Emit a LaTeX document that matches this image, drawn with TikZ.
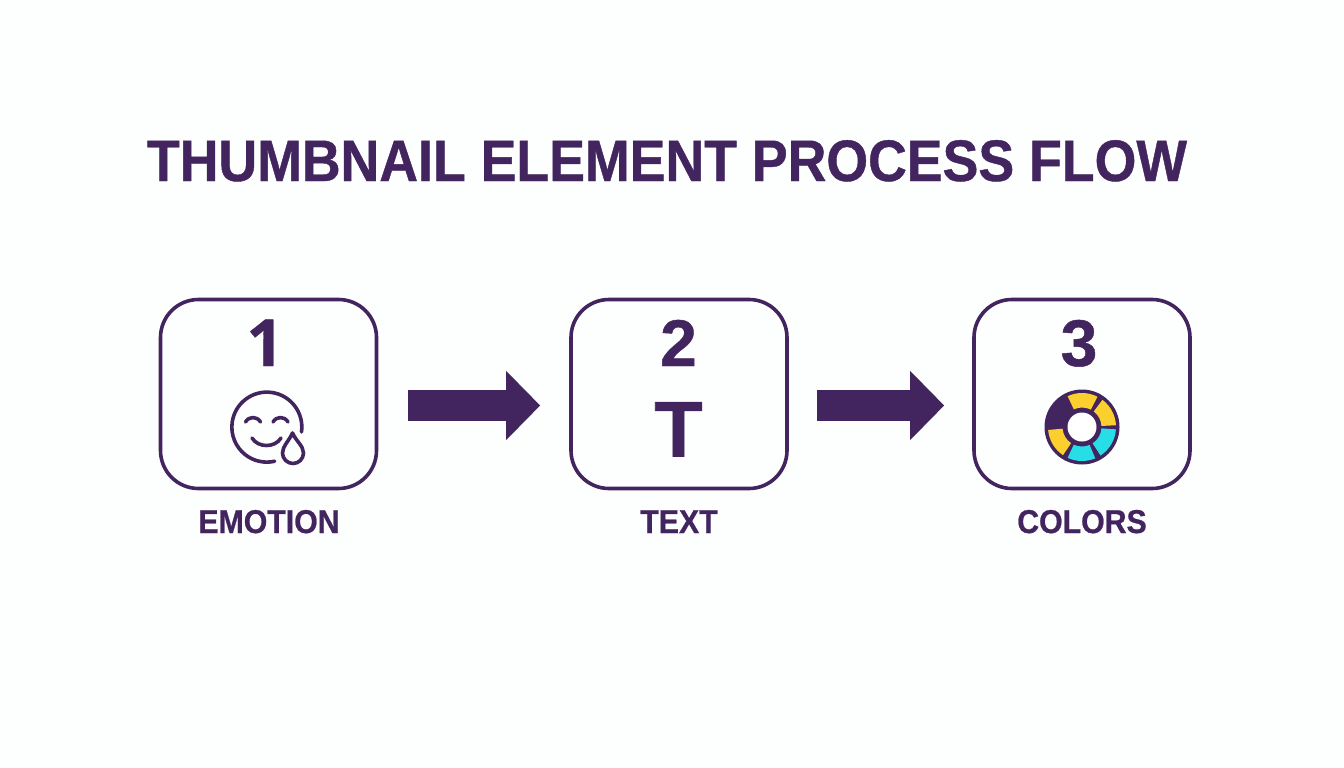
\documentclass[tikz,border=0pt]{standalone}
\usepackage{fontspec}
\setmainfont{Liberation Sans}
\newfontfamily\titlefont[FakeStretch=0.917,BoldFeatures={FakeBold=0.7}]{Liberation Sans}
\newfontfamily\heavyfont[BoldFeatures={FakeBold=0.7}]{Liberation Sans}
\newfontfamily\onefont[BoldFeatures={FakeBold=0.5}]{Open Sans}
\usetikzlibrary{arrows.meta}
\definecolor{ink}{HTML}{42245F}
\definecolor{wheelY}{HTML}{FBD02E}
\definecolor{wheelC}{HTML}{27DDE6}
\definecolor{paper}{HTML}{FDFEFE}
\tikzset{
  x=1pt,y=1pt,
  stagebox/.style={draw=ink,line width=3.6pt,rounded corners=38pt,minimum width=216pt,minimum height=189pt,inner sep=0pt},
  flow/.style={draw=ink,line width=31pt,-{Triangle[length=34pt,width=67pt,fill=ink,color=ink]}},
  tlabel/.style={text=ink,font=\titlefont\bfseries\fontsize{33}{35}\selectfont,inner sep=0pt,anchor=base},
  numeral/.style={text=ink,font=\heavyfont\bfseries\fontsize{66}{68}\selectfont,inner sep=0pt,anchor=base},
  iconline/.style={draw=ink,line width=3.6pt,line cap=round,line join=round},
}
\begin{document}
\begin{tikzpicture}[yscale=-1]
\useasboundingbox (0,0) rectangle (1344,768);
\fill[paper] (0,0) rectangle (1344,768);
\node[text=ink,font=\titlefont\bfseries\fontsize{58.5}{60}\selectfont,inner sep=0pt,anchor=base] (title) at (667,181) {THUMBNAIL ELEMENT PROCESS FLOW};
\node[stagebox] (b1) at (268.5,394) {};
\node[stagebox] (b2) at (679,394) {};
\node[stagebox] (b3) at (1082,394) {};
\node[numeral,font=\onefont\bfseries\fontsize{65}{68}\selectfont] (n1) at (265,366) {1};
\node[numeral] (n2) at (678.5,366) {2};
\node[numeral] (n3) at (1079,366) {3};
\node[tlabel] (l1) at (269,533) {EMOTION};
\node[tlabel] (l2) at (679,533) {TEXT};
\node[tlabel] (l3) at (1082,533) {COLORS};
\coordinate (a1s) at ([xshift=30pt,yshift=11.5pt]b1.east);
\coordinate (a1e) at ([xshift=-29pt,yshift=11.5pt]b2.west);
\coordinate (a2s) at ([xshift=28pt,yshift=11.5pt]b2.east);
\coordinate (a2e) at ([xshift=-28pt,yshift=11.5pt]b3.west);
\draw[flow] (a1s) -- (a1e);
\draw[flow] (a2s) -- (a2e);
% emotion icon
\draw[iconline] (301.5,432) arc[start angle=8,end angle=-283,radius=35];
\draw[iconline] (245.5,422) .. controls (249,416) and (257,416) .. (260.5,422);
\draw[iconline] (273,422) .. controls (276.5,416) and (284.5,416) .. (288,422);
\draw[iconline] (252,438) .. controls (258,448) and (275,448) .. (281,438);
\draw[iconline] (292.5,433) .. controls (289,441) and (282.5,446) .. (282.5,453) arc[start angle=180,end angle=0,radius=10.5] .. controls (303.5,446) and (296,441) .. (292.5,433) -- cycle;
% T icon
\node[text=ink,font=\heavyfont\bfseries\fontsize{79}{80}\selectfont,inner sep=0pt,anchor=base] (tglyph) at (678.5,456.5) {T};
% colour wheel
\begin{scope}[shift={(1082,427)},yscale=-1]
\fill[ink] (0,0) circle[radius=37.5];
\foreach \a/\b/\c in {115/63/wheelY,53/3/wheelY,-4/-57/wheelC,-67/-115/wheelC,-124/-175/wheelY}{
  \fill[\c] (\a:34) arc[start angle=\a,end angle=\b,radius=34] -- (\b:19.5) arc[start angle=\b,end angle=\a,radius=19.5] -- cycle;
}
\fill[white] (0,0) circle[radius=14.5];
\end{scope}
\end{tikzpicture}
\end{document}
